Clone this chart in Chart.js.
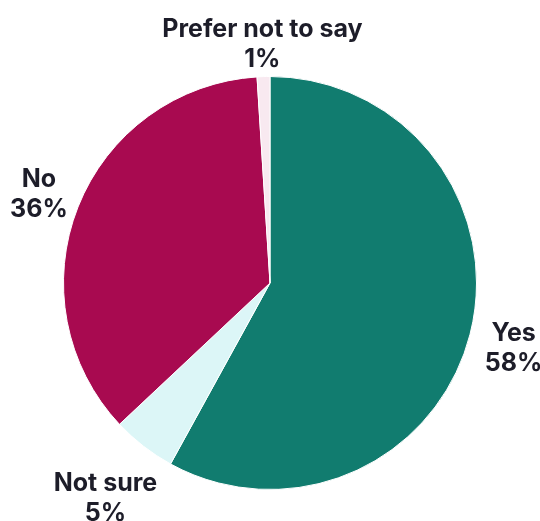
<!DOCTYPE html>
<html>
<head>
<meta charset="utf-8">
<script src="https://cdn.jsdelivr.net/npm/chart.js@4/dist/chart.umd.min.js"></script>
<style>
  html, body { margin: 0; padding: 0; background: #ffffff; }
  #wrap { width: 540px; height: 521px; }
</style>
</head>
<body>
<div id="wrap"><canvas id="pie" width="540" height="521"></canvas></div>
<script>
  // Survey answers, clockwise from 12 o'clock
  const labels = ['Yes', 'Not sure', 'No', 'Prefer not to say'];
  const values = [58, 5, 36, 1];

  const colors = [
    '#117c6f', // Yes – teal
    '#dcf6f7', // Not sure – pale cyan
    '#a80a50', // No – crimson
    '#f8e9f0'  // Prefer not to say – near white
  ];

  // how far past the rim each label sits (px)
  const labelGap = [45, 62, 42, 35];

  const outsideLabels = {
    id: 'outsideLabels',
    afterDatasetsDraw(chart) {
      const { ctx } = chart;
      const meta = chart.getDatasetMeta(0);
      ctx.save();
      ctx.fillStyle = '#1d1d29';
      ctx.font = '700 25px Inter, "Noto Sans", sans-serif';
      ctx.textAlign = 'center';
      ctx.textBaseline = 'middle';
      meta.data.forEach((arc, i) => {
        const { x, y, startAngle, endAngle, outerRadius } = arc.getProps(
          ['x', 'y', 'startAngle', 'endAngle', 'outerRadius'], true);
        const mid = (startAngle + endAngle) / 2;
        const r = outerRadius + labelGap[i];
        const lx = x + Math.cos(mid) * r;
        const ly = y + Math.sin(mid) * r + 3;
        ctx.fillText(labels[i], lx, ly - 15);
        ctx.fillText(values[i] + '%', lx, ly + 15);
      });
      ctx.restore();
    }
  };

  new Chart(document.getElementById('pie').getContext('2d'), {
    type: 'pie',
    data: {
      labels,
      datasets: [{
        data: values,
        backgroundColor: colors,
        borderColor: '#ffffff',
        borderWidth: 1
      }]
    },
    options: {
      responsive: false,
      animation: false,
      layout: { padding: { top: 76, bottom: 31, left: 63, right: 63 } },
      plugins: {
        legend: { display: false },
        tooltip: { enabled: false }
      }
    },
    plugins: [outsideLabels]
  });
</script>
</body>
</html>
